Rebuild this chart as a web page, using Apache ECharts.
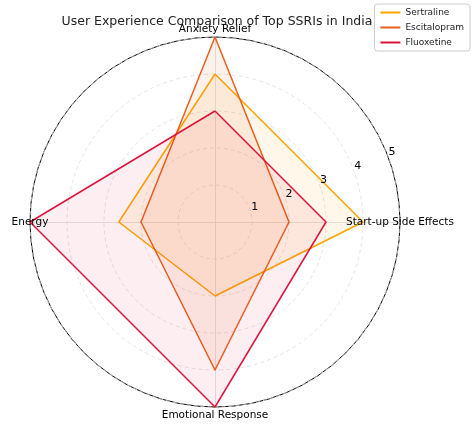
<!DOCTYPE html>
<html>
<head>
<meta charset="UTF-8">
<script src="https://cdn.jsdelivr.net/npm/echarts@6/dist/echarts.min.js"></script>
<style>
  body { margin: 0; background: #fff; }
  #chart { width: 474px; height: 424px; }
</style>
</head>
<body>
<div id="chart"></div>
<script>
    // axes in counterclockwise order starting from the top
    var indicators = ['Anxiety Relief', 'Energy', 'Emotional Response', 'Start-up Side Effects'];
    var sertraline = [4, 2.6, 2, 4];
    var escitalopram = [5, 2, 4, 2];
    var fluoxetine = [3, 5, 5, 3];
    var ringLabels = ['1', '2', '3', '4', '5'];

    var cx = 215, cy = 222, R = 185;
    var chart = echarts.init(document.getElementById('chart'));

    // ring labels drawn along ~22 degrees like the original
    var ang = 22 * Math.PI / 180;
    var labelTexts = ringLabels.map(function (t, i) {
        var r = R * (i + 1) / ringLabels.length;
        return {
            type: 'text', z: 10,
            x: cx + r * Math.cos(ang) + 2,
            y: cy - r * Math.sin(ang) - 6,
            style: { text: t, fill: '#000', font: '11px DejaVu Sans' }
        };
    });

    // axis names centred on the axis ends, as matplotlib does
    var nameTexts = indicators.map(function (n, i) {
        var a = Math.PI / 2 + i * 2 * Math.PI / indicators.length;
        var off = (i % 2 === 0) ? 8 : 0;
        var dirY = -Math.sin(a);
        return {
            type: 'text', z: 10,
            x: cx + R * Math.cos(a),
            y: cy - R * Math.sin(a) + dirY * off,
            style: { text: n, fill: '#000', font: '10.5px DejaVu Sans',
                     textAlign: 'center', textVerticalAlign: 'middle' }
        };
    });

    var option = {
        animation: false,
        title: {
            text: 'User Experience Comparison of Top SSRIs in India',
            left: 212, top: 10, textAlign: 'center',
            textStyle: { fontFamily: 'DejaVu Sans', fontWeight: 'normal', fontSize: 12.5, color: '#222' }
        },
        legend: {
            orient: 'vertical', right: 4, top: 4,
            itemWidth: 20, itemHeight: 2, itemGap: 6,
            icon: 'rect',
            borderColor: '#ccc', borderWidth: 1, borderRadius: 3, padding: [4, 6],
            textStyle: { fontFamily: 'DejaVu Sans', fontSize: 9, color: '#222' },
            data: ['Sertraline', 'Escitalopram', 'Fluoxetine']
        },
        radar: {
            center: [cx, cy], radius: R,
            startAngle: 90, shape: 'circle', splitNumber: 5,
            indicator: indicators.map(function (n) { return { name: n, min: 0, max: 5 }; }),
            axisName: { show: false },
            axisLine: { lineStyle: { color: '#ddd', width: 0.8 } },
            splitLine: { lineStyle: { color: '#ddd', type: [4, 3], width: 0.8 } },
            splitArea: { show: false },
            axisLabel: { show: false }
        },
        graphic: [{
            type: 'circle', shape: { cx: cx, cy: cy, r: R },
            style: { fill: 'none', stroke: '#000', lineWidth: 1 }, silent: true
        }].concat(labelTexts, nameTexts),
        series: [{
            type: 'radar', symbol: 'none',
            data: [
                { name: 'Sertraline', value: sertraline,
                  lineStyle: { color: '#FFA500', width: 1.5 }, itemStyle: { color: '#FFA500' },
                  areaStyle: { color: 'rgba(255,165,0,0.12)' } },
                { name: 'Escitalopram', value: escitalopram,
                  lineStyle: { color: '#E8601C', width: 1.5 }, itemStyle: { color: '#E8601C' },
                  areaStyle: { color: 'rgba(232,96,28,0.12)' } },
                { name: 'Fluoxetine', value: fluoxetine,
                  lineStyle: { color: '#DC143C', width: 1.5 }, itemStyle: { color: '#DC143C' },
                  areaStyle: { color: 'rgba(220,20,60,0.1)' } }
            ]
        }]
    };
    chart.setOption(option);
</script>
</body>
</html>
